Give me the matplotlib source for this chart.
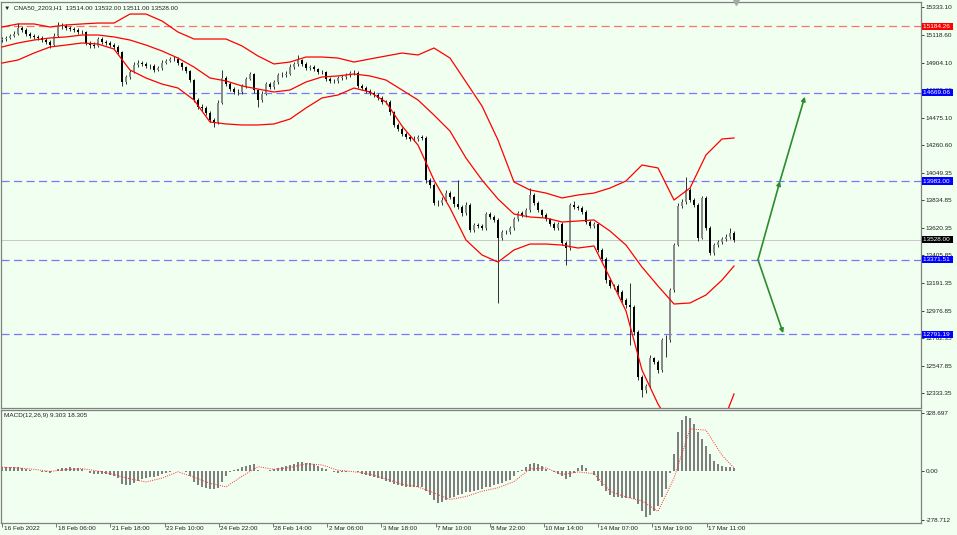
import numpy as np
import matplotlib.pyplot as plt
from matplotlib.transforms import blended_transform_factory, offset_copy

# candles (2 H1 bars per candle)
closes = [15087, 15095, 15110, 15126, 15172, 15157, 15126, 15110, 15102, 15095,
          15079, 15064, 15040, 15110, 15188, 15188, 15172, 15165, 15157, 15141,
          15141, 15056, 15040, 15033, 15087, 15064, 15056, 15040, 15025, 14986,
          14753, 14792, 14831, 14885, 14900, 14893, 14877, 14877, 14846, 14862,
          14900, 14916, 14932, 14932, 14900, 14869, 14838, 14768, 14613, 14559,
          14551, 14512, 14458, 14442, 14590, 14784, 14737, 14698, 14675, 14675,
          14722, 14776, 14815, 14691, 14613, 14660, 14737, 14714, 14753, 14807,
          14807, 14815, 14869, 14893, 14924, 14893, 14862, 14869, 14854, 14831,
          14831, 14776, 14761, 14761, 14784, 14792, 14807, 14823, 14823, 14722,
          14706, 14683, 14667, 14652, 14629, 14598, 14598, 14520, 14419, 14388,
          14349, 14326, 14310, 14310, 14326, 14318, 13991, 13953, 13813, 13813,
          13836, 13890, 13859, 13805, 13782, 13735, 13797, 13603, 13642, 13634,
          13618, 13727, 13704, 13681, 13541, 13587, 13587, 13618, 13688, 13735,
          13720, 13758, 13875, 13813, 13758, 13720, 13688, 13650, 13618, 13650,
          13502, 13463, 13797, 13782, 13774, 13743, 13665, 13634, 13650, 13448,
          13378, 13214, 13168, 13168, 13121, 13059, 13020, 13005, 12810, 12461,
          12360, 12391, 12608, 12577, 12515, 12748, 12748, 13137, 13486, 13789,
          13821, 13914, 13836, 13797, 13541, 13852, 13618, 13424, 13486, 13510,
          13533, 13549, 13580, 13528]
highs = [15105, 15112, 15128, 15150, 15211, 15190, 15170, 15140, 15125, 15118,
         15110, 15095, 15080, 15130, 15219, 15210, 15200, 15190, 15180, 15172,
         15160, 15150, 15070, 15060, 15105, 15100, 15080, 15070, 15055, 15040,
         14995, 14810, 14850, 14905, 14920, 14915, 14905, 14895, 14890, 14880,
         14920, 14935, 14950, 14955, 14945, 14910, 14880, 14850, 14780, 14630,
         14580, 14565, 14525, 14470, 14610, 14846, 14800, 14750, 14712, 14695,
         14740, 14795, 14832, 14825, 14700, 14680, 14755, 14750, 14770, 14825,
         14828, 14835, 14890, 14912, 14963, 14935, 14905, 14885, 14882, 14865,
         14848, 14840, 14790, 14780, 14800, 14810, 14825, 14842, 14845, 14835,
         14735, 14720, 14695, 14680, 14668, 14642, 14615, 14610, 14530, 14435,
         14400, 14362, 14340, 14330, 14345, 14340, 14330, 14010, 13965, 13835,
         13860, 13910, 13905, 13870, 13991, 13800, 13820, 13810, 13660, 13660,
         13650, 13745, 13740, 13720, 13695, 13605, 13605, 13635, 13705, 13750,
         13750, 13775, 13929, 13890, 13825, 13770, 13735, 13700, 13665, 13668,
         13665, 13520, 13812, 13830, 13800, 13790, 13755, 13680, 13668, 13660,
         13460, 13390, 13230, 13185, 13180, 13135, 13075, 13191, 13020, 12825,
         12475, 12410, 12630, 12620, 12590, 12765, 12790, 13155, 13505, 13810,
         13840, 14015, 13930, 13850, 13810, 13870, 13865, 13635, 13505, 13528,
         13550, 13570, 13618, 13595]
lows = [15065, 15075, 15085, 15100, 15115, 15140, 15110, 15095, 15085, 15078,
        15060, 15045, 15020, 15030, 15100, 15165, 15155, 15148, 15140, 15125,
        15122, 15040, 15020, 15015, 15025, 15048, 15040, 15025, 15008, 14970,
        14720, 14740, 14780, 14820, 14870, 14875, 14860, 14855, 14830, 14835,
        14850, 14890, 14905, 14915, 14885, 14850, 14820, 14750, 14595, 14540,
        14530, 14495, 14440, 14403, 14430, 14580, 14720, 14680, 14658, 14655,
        14660, 14710, 14765, 14670, 14559, 14600, 14650, 14700, 14700, 14740,
        14790, 14795, 14805, 14855, 14880, 14878, 14845, 14848, 14838, 14815,
        14812, 14760, 14745, 14742, 14748, 14772, 14780, 14795, 14805, 14705,
        14690, 14668, 14650, 14635, 14612, 14580, 14580, 14500, 14400, 14370,
        14330, 14308, 14292, 14292, 14298, 14300, 13970, 13930, 13795, 13790,
        13800, 13825, 13840, 13785, 13765, 13715, 13720, 13585, 13590, 13615,
        13600, 13605, 13690, 13665, 13036, 13525, 13570, 13575, 13605, 13675,
        13705, 13705, 13745, 13800, 13742, 13705, 13672, 13635, 13600, 13605,
        13485, 13331, 13450, 13765, 13755, 13725, 13650, 13618, 13620, 13430,
        13360, 13195, 13150, 13148, 13105, 13040, 13000, 12710, 12790, 12440,
        12305, 12340, 12380, 12560, 12495, 12500, 12620, 12735, 13125, 13475,
        13775, 13805, 13820, 13780, 13520, 13530, 13600, 13409, 13410, 13470,
        13495, 13515, 13535, 13511]
first_open = 15080

# bollinger bands, read every 4th candle
band_upper = [15180, 15204, 15204, 15180, 15196, 15204, 15211, 15211, 15281, 15281,
              15227, 15141, 15087, 15087, 15087, 15033, 14955, 14893, 14908, 14947,
              14947, 14939, 14908, 14932, 14955, 14978, 14963, 15017, 14939, 14753,
              14566, 14302, 13976, 13914, 13890, 13852, 13875, 13890, 13929, 13984,
              14108, 14085, 13836, 13929, 14186, 14310, 14318]
band_middle = [15025, 15056, 15079, 15095, 15103, 15118, 15118, 15103, 15079, 15040,
               14994, 14939, 14869, 14784, 14761, 14722, 14698, 14675, 14691, 14753,
               14792, 14800, 14815, 14800, 14768, 14691, 14613, 14496, 14372, 14162,
               13991, 13844, 13727, 13704, 13696, 13665, 13673, 13681, 13595, 13486,
               13315, 13168, 13028, 13036, 13098, 13214, 13323]
band_lower = [14900, 14924, 14978, 15025, 15040, 15056, 15048, 15009, 14846, 14784,
              14737, 14706, 14613, 14442, 14427, 14419, 14419, 14427, 14465, 14551,
              14629, 14652, 14706, 14675, 14597, 14411, 14263, 13991, 13774, 13525,
              13409, 13354, 13448, 13494, 13494, 13486, 13463, 13479, 13230, 12974,
              12515, 12251, 12049, 11971, 11971, 12088, 12329]

# MACD(12,26,9)
macd_main = [21, 21, 22, 23, 22, 20, 14, 8, 3, -1,
             -4, -8, -10, -2, 10, 17, 20, 21, 19, 16,
             10, 2, -10, -17, -17, -17, -17, -22, -28, -40,
             -72, -82, -80, -68, -55, -48, -42, -36, -33, -26,
             -18, -12, -5, -1, 0, -2, -5, -30, -65, -82,
             -90, -97, -103, -104, -95, -62, -30, -5, 5, 14,
             22, 28, 36, 42, 8, 2, 3, 8, 14, 18,
             24, 30, 36, 42, 50, 50, 48, 44, 38, 28,
             20, 10, 0, -6, -10, -8, -4, -1, 0, -8,
             -14, -22, -28, -33, -38, -48, -56, -64, -72, -80,
             -86, -91, -92, -91, -90, -92, -115, -138, -165, -182,
             -178, -166, -155, -145, -138, -130, -122, -119, -112, -108,
             -100, -92, -88, -80, -72, -66, -58, -51, -30, -8,
             8, 25, 42, 46, 38, 28, 14, 0, -8, -18,
             -30, -48, -35, -12, 15, 34, 20, 0, -20, -55,
             -85, -112, -135, -148, -150, -152, -154, -155, -160, -185,
             -230, -262, -252, -230, -200, -150, -100, -10, 95, 220,
             290, 312, 300, 268, 222, 185, 145, 98, 60, 40,
             30, 25, 22, 17]
macd_signal = [22, 18, 10, -2, 8, 14, 0, -20, -45, -62,
               -40, -4, -35, -70, -90, -30, 25, 10, 20, 42,
               35, 5, -4, -18, -45, -75, -90, -125, -162, -145,
               -115, -95, -60, 12, 18, -20, -5, -15, -115, -148,
               -170, -230, -40, 240, 233, 90, 18]

level_red = 15184.26
levels_blue = [14669.06, 13983.00, 13371.51, 12791.19]
last_price = 13528.00

price_ticks = [15333.10, 15118.60, 14904.10, 14689.60, 14475.10, 14260.60, 14049.35,
               13834.85, 13620.35, 13405.85, 13191.35, 12976.85, 12762.35, 12547.85, 12333.35]
macd_ticks = [328.697, 0.00, -278.712]
macd_tick_labels = ['328.697', '0.00', '-278.712']
date_labels = ['16 Feb 2022', '18 Feb 06:00', '21 Feb 18:00', '23 Feb 10:00', '24 Feb 22:00',
               '28 Feb 14:00', '2 Mar 06:00', '3 Mar 18:00', '7 Mar 10:00', '8 Mar 22:00',
               '10 Mar 14:00', '14 Mar 07:00', '15 Mar 19:00', '17 Mar 11:00']

plt.rcParams['font.family'] = ['Liberation Sans', 'DejaVu Sans']
FS = 4.6
BG = '#F0FFF0'
SPINE = '#808080'

fig = plt.figure(figsize=(9.57, 5.35), dpi=100, facecolor=BG)
ax = fig.add_axes([1 / 957, 127 / 535, 920 / 957, 406 / 535], facecolor=BG)
ax2 = fig.add_axes([1 / 957, 12 / 535, 920 / 957, 113 / 535], facecolor=BG)

n = len(closes)
x = np.arange(n)
c = np.array(closes, dtype=float)
o = np.array([first_open] + closes[:-1], dtype=float)
up = c >= o
band_x = list(range(0, n, 4)) + [n - 1]

# price panel
ax.axhline(level_red, color='#FF7070', lw=0.9, ls=(0, (6.5, 3.5)), zorder=1)
for lv in levels_blue:
    ax.axhline(lv, color='#7878FF', lw=0.9, ls=(0, (6.5, 3.5)), zorder=1)
ax.axhline(last_price, color='#C8C8C8', lw=0.7, zorder=1)

ax.vlines(x, lows, highs, color='#303030', lw=0.7, zorder=3)
ax.bar(x[up], (c - o)[up], bottom=o[up], width=0.6, color='#8a8a8a', zorder=4)
ax.bar(x[~up], (c - o)[~up], bottom=o[~up], width=0.6, color='#000000', zorder=4)

for band in (band_upper, band_middle, band_lower):
    ax.plot(band_x, band, color='#FF0000', lw=0.9, zorder=5)

arrow = dict(arrowstyle='-|>', color='#2E8B2E', lw=1.2, mutation_scale=6, shrinkA=0, shrinkB=0)
ax.annotate('', xy=(194.5, levels_blue[1]), xytext=(189, levels_blue[2]), arrowprops=arrow)
ax.annotate('', xy=(200.7, levels_blue[0] - 30), xytext=(194.5, levels_blue[1]), arrowprops=arrow)
ax.annotate('', xy=(195.3, levels_blue[3] + 10), xytext=(189, levels_blue[2]), arrowprops=arrow)

ax.set_xlim(-0.25, 229.75)
ax.set_ylim(12220, 15374.5)
ax.set_xticks([])
ax.yaxis.tick_right()
ax.set_yticks(price_ticks)
ax.set_yticklabels([f'{v:.2f}' for v in price_ticks])
ax.tick_params(axis='y', length=2, width=0.6, pad=1.5, labelsize=FS, colors='#202020')

tr = blended_transform_factory(ax.transAxes, ax.transData)
tags = [(level_red, '#FF0000')] + [(lv, '#0000FF') for lv in levels_blue] + [(last_price, '#000000')]
for v, col in tags:
    ax.text(1.0022, v, f'{v:.2f} ', transform=tr, fontsize=FS, color='white', va='center', ha='left',
            bbox=dict(boxstyle='square,pad=0.18', fc=col, ec='none'), zorder=10, clip_on=False)

ax.text(0.003, 0.993, '\u25bc  CNA50_2203,H1  13514.00 13532.00 13511.00 13528.00',
        transform=ax.transAxes, fontsize=FS, va='top', ha='left', color='#202020')
ax.plot([183.5], [15374.5], marker='v', ms=4, color='#A8A8A8', clip_on=False, zorder=6)

# MACD panel
ax2.bar(x, macd_main, width=0.7, color='#7f7f7f', zorder=3)
ax2.plot(band_x, macd_signal, color='#FF3030', lw=0.7, ls=(0, (1, 1.3)), zorder=4)
ax2.set_xlim(-0.25, 229.75)
ax2.set_ylim(-296, 348)
ax2.yaxis.tick_right()
ax2.set_yticks(macd_ticks)
ax2.set_yticklabels(macd_tick_labels)
ax2.tick_params(axis='y', length=2, width=0.6, pad=1.5, labelsize=FS, colors='#202020')
ax2.text(0.003, 0.975, 'MACD(12,26,9) 9.303 18.305', transform=ax2.transAxes,
         fontsize=FS, va='top', ha='left', color='#202020')

date_pos = np.arange(len(date_labels)) * 13.55
ax2.set_xticks(date_pos)
ax2.tick_params(axis='x', length=3, width=0.6, colors='#606060', labelbottom=False)
trd = offset_copy(blended_transform_factory(ax2.transData, ax2.transAxes), fig=fig, x=1.5, y=0, units='dots')
for p, lbl in zip(date_pos, date_labels):
    ax2.text(p, -0.03, lbl, transform=trd, fontsize=FS, va='top', ha='left', color='#202020', clip_on=False)

for a in (ax, ax2):
    for s in a.spines.values():
        s.set_color(SPINE)
        s.set_linewidth(0.9)

fig.savefig('out.png', dpi=100, facecolor=BG)
